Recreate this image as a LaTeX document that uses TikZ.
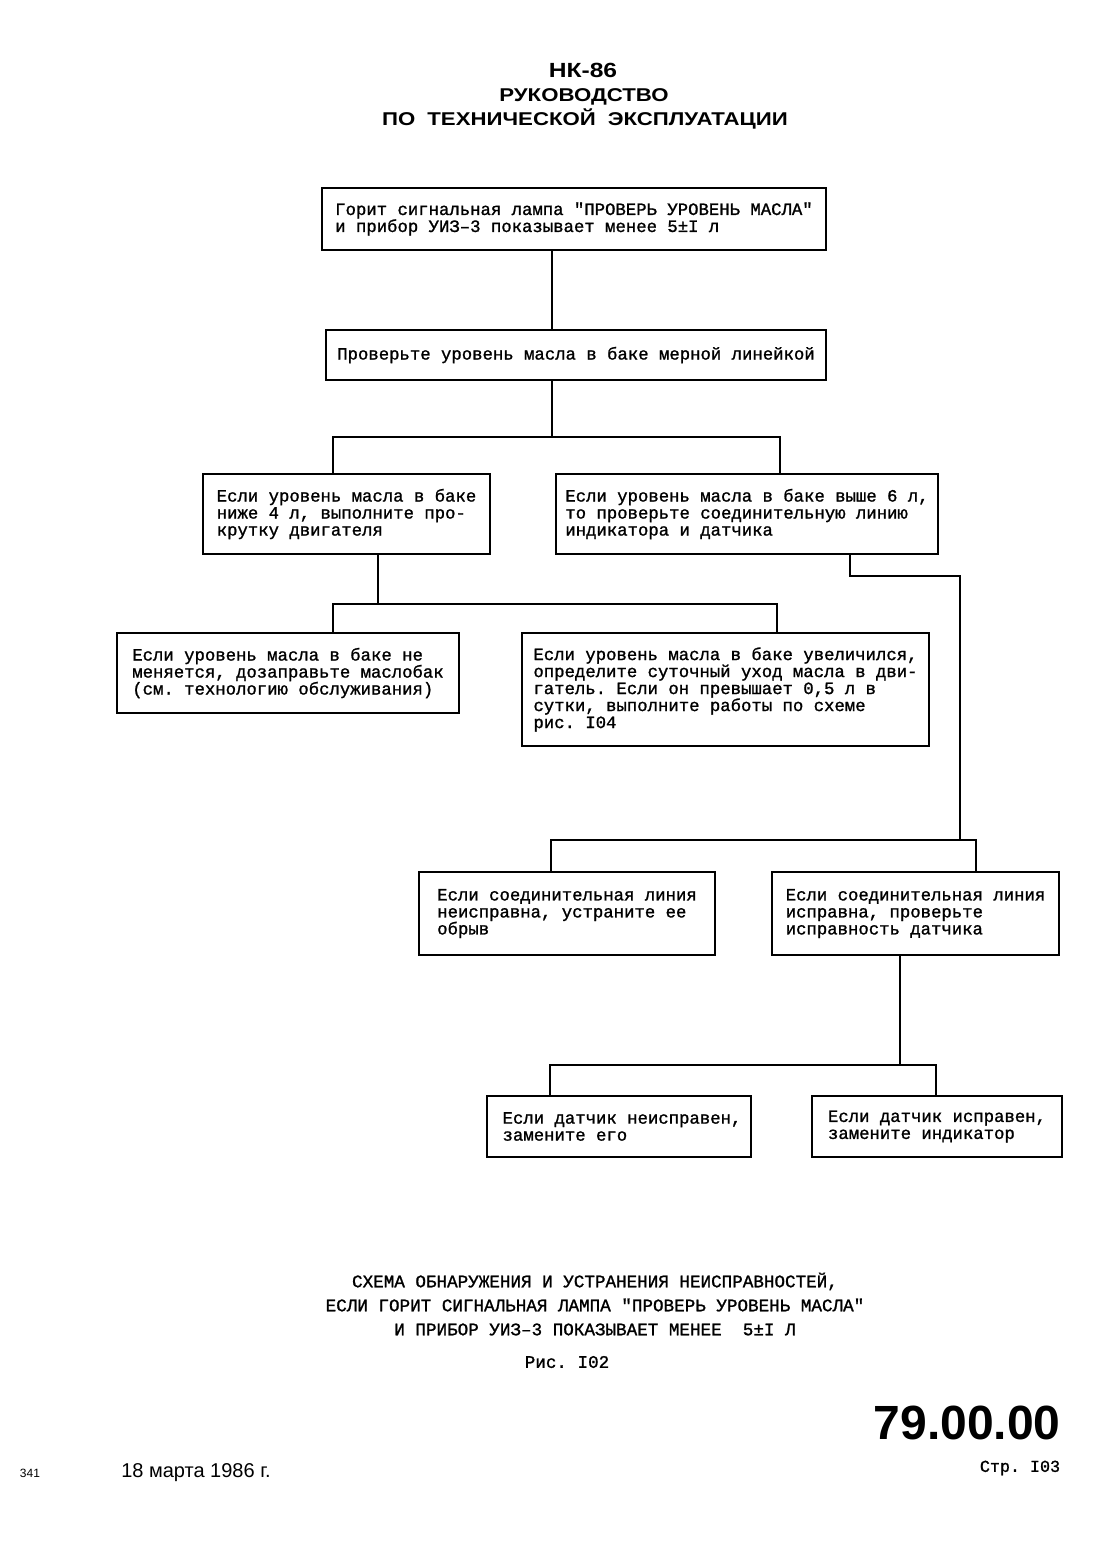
\documentclass[tikz,border=0pt]{standalone}
\usepackage{fontspec}
\setmainfont{Liberation Serif}
\newfontfamily\typewr[FakeBold=1.2]{Liberation Mono}
\newfontfamily\headsans[FakeStretch=1.2]{Liberation Sans}
\newfontfamily\plainsans{Liberation Sans}
\frenchspacing

\begin{document}
\begin{tikzpicture}[x=1pt, y=-1pt,
    box/.style={draw, line width=2.2pt, align=left, inner sep=0pt,
      font=\typewr\fontsize{17.3}{17}\selectfont},
    wire/.style={line width=2.2pt}]
  \fill[white] (0,0) rectangle (1114,1542);
  \useasboundingbox (0,0) rectangle (1114,1542);

  % heading
  \node[font=\headsans\bfseries\fontsize{20.5}{20}\selectfont] (hdno) at (583,70) {НК-86};
  \node[font=\headsans\bfseries\fontsize{18.5}{18}\selectfont] (hdone) at (584,97) {РУКОВОДСТВО};
  \node[font=\headsans\bfseries\fontsize{18.5}{18}\selectfont] (hdtwo) at (585,119)
    {ПО\hspace{12pt}ТЕХНИЧЕСКОЙ\hspace{12pt}ЭКСПЛУАТАЦИИ};

  % boxes
  \node[box, minimum width=504, minimum height=62] (lamp) at (574,219)
    {Горит сигнальная лампа "ПРОВЕРЬ УРОВЕНЬ МАСЛА"\\
     и прибор УИЗ–3 показывает менее 5±I л};
  \node[box, minimum width=500, minimum height=50] (dip) at (576,355)
    {Проверьте уровень масла в баке мерной линейкой};
  \node[box, minimum width=287, minimum height=80] (low) at (346.5,514)
    {Если уровень масла в баке\\ниже 4 л, выполните про-\\крутку двигателя};
  \node[box, minimum width=382, minimum height=80] (high) at (747,514)
    {Если уровень масла в баке выше 6 л,\\то проверьте соединительную линию\\индикатора и датчика};
  \node[box, minimum width=342, minimum height=80] (same) at (288,673)
    {Если уровень масла в баке не\\меняется, дозаправьте маслобак\\(см. технологию обслуживания)};
  \node[box, minimum width=407, minimum height=113] (rise) at (725.5,689.5)
    {Если уровень масла в баке увеличился,\\определите суточный уход масла в дви-\\гатель. Если он превышает 0,5 л в\\сутки, выполните работы по схеме\\рис. I04};
  \node[box, minimum width=296, minimum height=83] (lnbad) at (567,913.5)
    {Если соединительная линия\\неисправна, устраните ее\\обрыв};
  \node[box, minimum width=287, minimum height=83] (lnok) at (915.5,913.5)
    {Если соединительная линия\\исправна, проверьте\\исправность датчика};
  \node[box, minimum width=264, minimum height=61] (snbad) at (619,1126.5)
    {\hspace*{6pt}Если датчик неисправен,\\\hspace*{6pt}замените его};
  \node[box, minimum width=250, minimum height=61] (snok) at (937,1126.5)
    {Если датчик исправен,\\замените индикатор};

  % junction points
  \coordinate (ja) at (552,437);
  \coordinate (jal) at (333,437);
  \coordinate (jar) at (780,437);
  \coordinate (jb) at (378,604);
  \coordinate (jbl) at (333,604);
  \coordinate (jbr) at (777,604);
  \coordinate (kink) at (850,576);
  \coordinate (jc) at (960,840);
  \coordinate (jcl) at (551,840);
  \coordinate (jcr) at (976,840);
  \coordinate (jd) at (900,1065);
  \coordinate (jdl) at (550,1065);
  \coordinate (jdr) at (936,1065);

  % connectors
  \draw[wire] (lamp.south -| ja) -- (dip.north -| ja);
  \draw[wire] (dip.south -| ja) -- (ja);
  \draw[wire] (low.north -| jal) |- (jar) -- (high.north -| jar);
  \draw[wire] (low.south -| jb) -- (jb);
  \draw[wire] (same.north -| jbl) |- (jbr) -- (rise.north -| jbr);
  \draw[wire] (high.south -| kink) -- (kink) -| (jc);
  \draw[wire] (lnbad.north -| jcl) |- (jcr) -- (lnok.north -| jcr);
  \draw[wire] (lnok.south -| jd) -- (jd);
  \draw[wire] (snbad.north -| jdl) |- (jdr) -- (snok.north -| jdr);

  % caption
  \node[align=center, font=\typewr\fontsize{17.6}{24}\selectfont] (capt) at (595,1304)
    {СХЕМА ОБНАРУЖЕНИЯ И УСТРАНЕНИЯ НЕИСПРАВНОСТЕЙ,\\
     ЕСЛИ ГОРИТ СИГНАЛЬНАЯ ЛАМПА "ПРОВЕРЬ УРОВЕНЬ МАСЛА"\\
     И ПРИБОР УИЗ–3 ПОКАЗЫВАЕТ МЕНЕЕ\ \ 5±I Л};
  \node[font=\typewr\fontsize{17.6}{24}\selectfont] (fig) at (567,1362) {Рис. I02};

  % page footer
  \node[anchor=east, font=\plainsans\bfseries\fontsize{48}{48}\selectfont] (chap) at (1064,1423) {79.00.00};
  \node[font=\typewr\fontsize{16.7}{17}\selectfont] (pg) at (1020,1468) {Стр. I03};
  \node[font=\plainsans\fontsize{20}{20}\selectfont] (date) at (196,1473) {18 марта 1986 г.};
  \node[font=\plainsans\fontsize{12}{12}\selectfont] (sheet) at (30,1473) {341};
\end{tikzpicture}
\end{document}
